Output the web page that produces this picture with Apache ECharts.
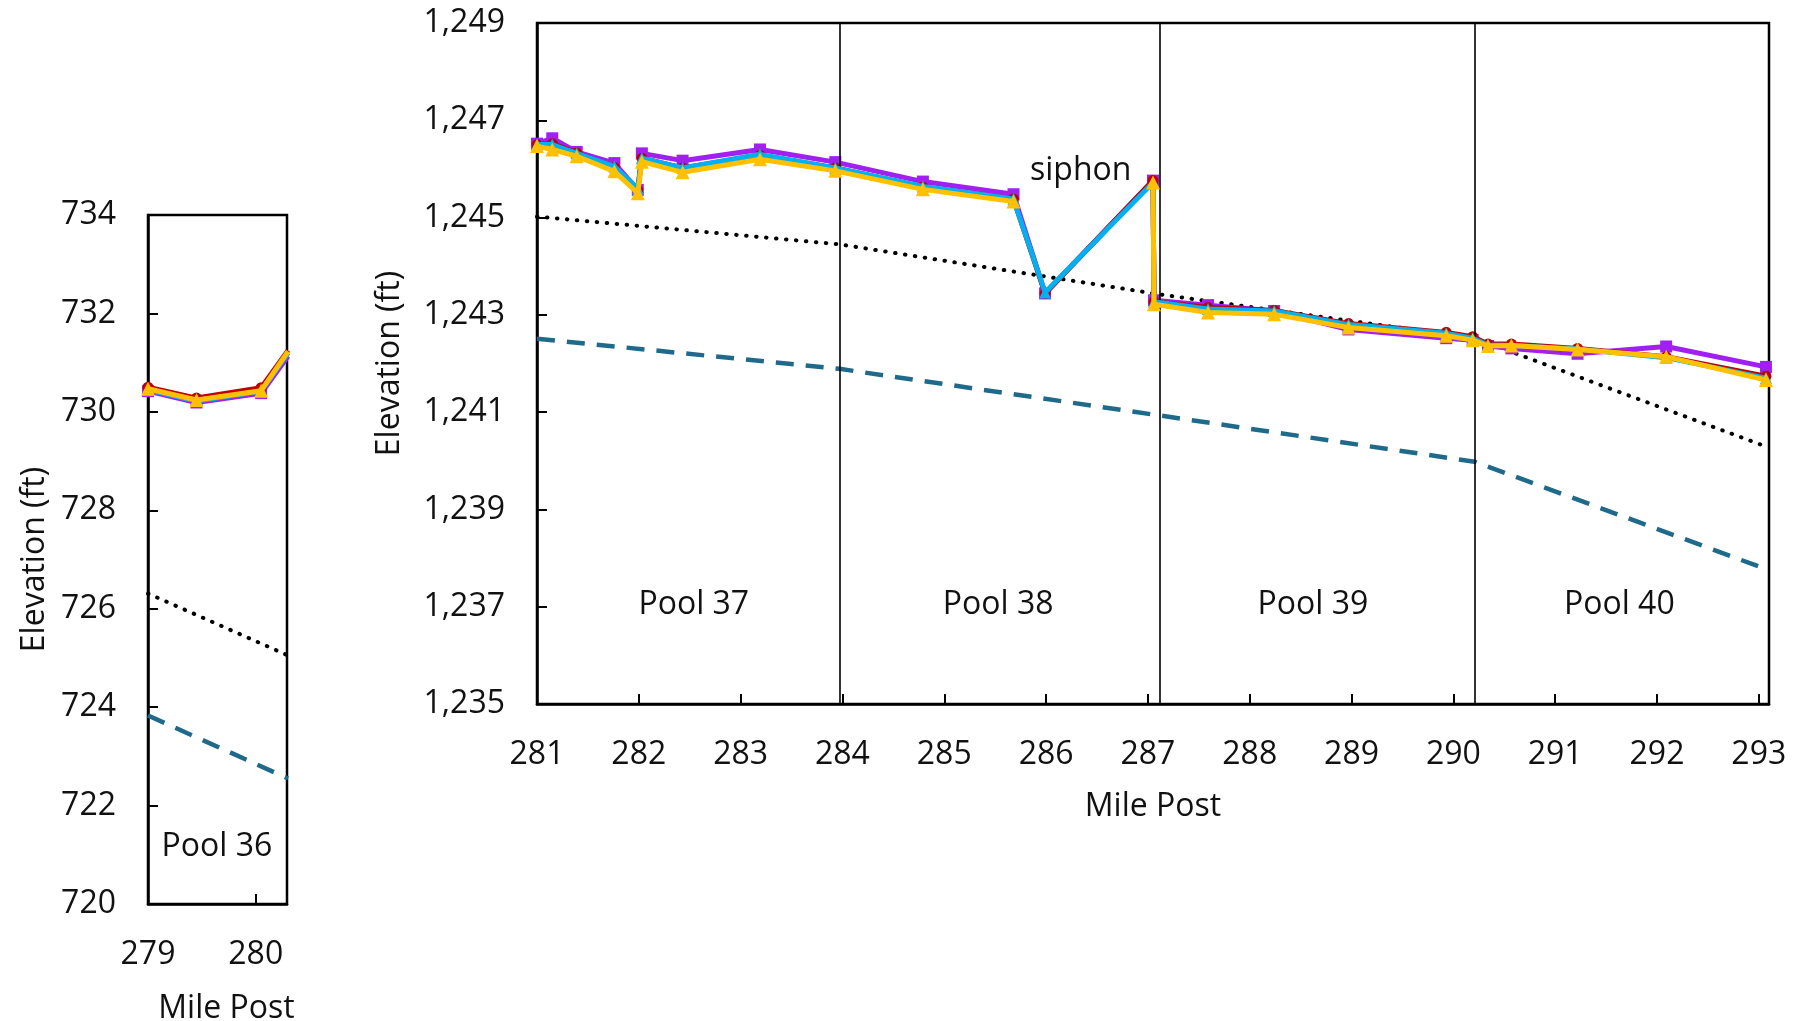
<!DOCTYPE html>
<html>
<head>
<meta charset="utf-8">
<title>Canal water surface elevation, Pools 36–40</title>
<script src="https://cdn.jsdelivr.net/npm/echarts@6/dist/echarts.min.js"></script>
<style>
  html, body { margin: 0; padding: 0; background: #ffffff; }
  #chart { width: 1801px; height: 1021px; }
</style>
</head>
<body>
<div id="chart"></div>
<script>
// ---- Pool 36 (left panel) ----
const p36Mile   = [279.0, 279.45, 280.05, 280.3];
const p36Purple = [730.42, 730.19, 730.38, 731.13];
const p36Red    = [730.50, 730.28, 730.49, 731.25];
const p36Cyan   = [730.45, 730.22, 730.42, 731.20];
const p36Gold   = [730.47, 730.24, 730.43, 731.23];
const p36DotMile = [279.0, 280.3];
const p36Dot     = [726.31, 725.05];
const p36DashMile = [279.0, 280.3];
const p36Dash     = [723.83, 722.55];

// ---- Pools 37–40 (main panel) ----
const mainMile = [281.0, 281.15, 281.39, 281.76, 281.99, 282.03, 282.43, 283.19,
  283.93, 284.79, 285.68, 285.99, 287.05, 287.06, 287.59, 288.24, 288.97, 289.93,
  290.19, 290.34, 290.57, 291.22, 292.09, 293.07];
const mainPurple = [1246.52, 1246.63, 1246.35, 1246.12, 1245.57, 1246.32, 1246.17, 1246.40,
  1246.14, 1245.74, 1245.48, 1243.44, 1245.76, 1243.30, 1243.20, 1243.08, 1242.70, 1242.52,
  1242.48, 1242.36, 1242.31, 1242.20, 1242.35, 1241.93];
const mainRed = [1246.50, 1246.52, 1246.33, 1246.03, 1245.57, 1246.22, 1246.02, 1246.28,
  1246.02, 1245.63, 1245.38, 1243.44, 1245.76, 1243.27, 1243.15, 1243.09, 1242.82, 1242.64,
  1242.55, 1242.40, 1242.40, 1242.31, 1242.14, 1241.74];
const mainCyan = [1246.50, 1246.50, 1246.32, 1246.05, 1245.60, 1246.22, 1246.02, 1246.30,
  1246.02, 1245.64, 1245.38, 1243.46, 1245.72, 1243.27, 1243.12, 1243.08, 1242.80, 1242.62,
  1242.52, 1242.38, 1242.37, 1242.30, 1242.12, 1241.70];
const mainGold = [1246.47, 1246.40, 1246.26, 1245.95, 1245.50, 1246.15, 1245.93, 1246.20,
  1245.96, 1245.58, 1245.33, null, 1245.72, 1243.22, 1243.05, 1243.01, 1242.74, 1242.57,
  1242.48, 1242.36, 1242.37, 1242.29, 1242.14, 1241.66];
const mainDotMile = [281.0, 283.97, 287.12, 290.21, 293.1];
const mainDot     = [1245.02, 1244.45, 1243.42, 1242.52, 1240.27];
const mainDashMile = [281.0, 283.97, 287.12, 290.21, 293.1];
const mainDash     = [1242.51, 1241.89, 1240.93, 1239.98, 1237.75];

// pool boundaries and annotations
const poolBounds = [283.97, 287.12, 290.21];
const poolNames  = ['Pool 37', 'Pool 38', 'Pool 39', 'Pool 40'];
const poolNameMile = [282.54, 285.53, 288.62, 291.63];
const poolNameElev = 1237.03;
const leftPoolName = 'Pool 36';
const leftPoolMile = 279.64;
const leftPoolElev = 721.16;
const siphonText = 'siphon';
const siphonMile = 286.34;
const siphonElev = 1245.96;

// tick labels
const leftYTicks = [720, 722, 724, 726, 728, 730, 732, 734];
const leftXTicks = [279, 280];
const mainYTicks = [1235, 1237, 1239, 1241, 1243, 1245, 1247, 1249];
const mainXTicks = [281, 282, 283, 284, 285, 286, 287, 288, 289, 290, 291, 292, 293];

const FONT = '"Open Sans", "Noto Sans", sans-serif';
const FS = 32;
const TXT = '#111111';
const COLORS = { purple: '#A21FF2', red: '#C00000', cyan: '#00B0F0', gold: '#FFC000', dash: '#1F6A8A' };

const pairs = (xs, ys) => xs.map((x, i) => [x, ys[i] == null ? '-' : ys[i]]);
const textStyle = { fontFamily: FONT, fontSize: FS, color: TXT };

function valueAxis(opts) {
  return Object.assign({
    type: 'value',
    axisLine: { show: true, onZero: false, lineStyle: { color: '#000', width: 2.5 } },
    splitLine: { show: false },
    nameTextStyle: Object.assign({}, textStyle),
  }, opts);
}
function ticks(values) {
  return { show: true, inside: true, length: 10, customValues: values, lineStyle: { color: '#000', width: 2 } };
}

function wsLine(name, xs, ys, color, symbol, size, xi, z) {
  return {
    name, type: 'line', xAxisIndex: xi, yAxisIndex: xi,
    data: pairs(xs, ys), connectNulls: false, clip: true,
    symbol, symbolSize: size, showAllSymbol: true,
    itemStyle: { color, borderWidth: 0 },
    lineStyle: { color, width: 5 },
    z, animation: false,
  };
}

function textSeries(xi, rows) {
  return {
    type: 'scatter', xAxisIndex: xi, yAxisIndex: xi, silent: true, symbolSize: 0, z: 10,
    itemStyle: { color: 'transparent', opacity: 1 },
    data: rows,
    label: Object.assign({
      show: true, position: 'inside', formatter: p => p.value[2],
      textBorderWidth: 0, textBorderColor: 'transparent', opacity: 1,
    }, textStyle),
  };
}

const chart = echarts.init(document.getElementById('chart'), null, { renderer: 'canvas' });

const option = {
  animation: false,
  backgroundColor: '#ffffff',
  grid: [
    { left: 148, top: 215, width: 139, height: 689, show: true, borderColor: '#000', borderWidth: 2.5,
      containLabel: false, outerBoundsMode: 'none' },
    { left: 537, top: 23, right: 32, height: 681, show: true, borderColor: '#000', borderWidth: 2.5,
      containLabel: false, outerBoundsMode: 'none' },
  ],
  xAxis: [
    valueAxis({
      gridIndex: 0, min: 279, max: 280.29,
      name: 'Mile Post', nameLocation: 'middle', nameGap: 89,
      nameTextStyle: Object.assign({ padding: [0, 0, 0, 18] }, textStyle),
      axisTick: ticks(leftXTicks),
      axisLabel: Object.assign({ customValues: leftXTicks, margin: 35 }, textStyle),
    }),
    valueAxis({
      gridIndex: 1, min: 281, max: 293.1,
      name: 'Mile Post', nameLocation: 'middle', nameGap: 87,
      axisTick: ticks(mainXTicks),
      axisLabel: Object.assign({ customValues: mainXTicks, margin: 35 }, textStyle),
    }),
  ],
  yAxis: [
    valueAxis({
      gridIndex: 0, min: 720, max: 734,
      name: 'Elevation (ft)', nameLocation: 'middle', nameGap: 97, nameRotate: 90,
      axisTick: ticks(leftYTicks),
      axisLabel: Object.assign({ customValues: leftYTicks, margin: 32 }, textStyle),
    }),
    valueAxis({
      gridIndex: 1, min: 1235, max: 1249,
      name: 'Elevation (ft)', nameLocation: 'middle', nameGap: 131, nameRotate: 90,
      axisTick: ticks(mainYTicks),
      axisLabel: Object.assign({
        customValues: mainYTicks, margin: 32,
        formatter: v => Number(v).toLocaleString('en-US'),
      }, textStyle),
    }),
  ],
  series: [
    // reference grade lines, left panel
    {
      type: 'line', xAxisIndex: 0, yAxisIndex: 0, data: pairs(p36DotMile, p36Dot),
      symbol: 'none', lineStyle: { color: '#000', width: 4, type: [0.5, 9.5], cap: 'round' }, z: 2,
    },
    {
      type: 'line', xAxisIndex: 0, yAxisIndex: 0, data: pairs(p36DashMile, p36Dash),
      symbol: 'none', lineStyle: { color: COLORS.dash, width: 4.5, type: [18, 12] }, z: 2,
    },
    wsLine('purple36', p36Mile, p36Purple, COLORS.purple, 'rect', 12, 0, 3),
    wsLine('red36', p36Mile, p36Red, COLORS.red, 'circle', 11, 0, 4),
    wsLine('cyan36', p36Mile, p36Cyan, COLORS.cyan, 'triangle', 12, 0, 5),
    wsLine('gold36', p36Mile, p36Gold, COLORS.gold, 'triangle', 14, 0, 6),

    // reference grade lines + pool boundaries, main panel
    {
      type: 'line', xAxisIndex: 1, yAxisIndex: 1, data: pairs(mainDotMile, mainDot),
      symbol: 'none', lineStyle: { color: '#000', width: 4, type: [0.5, 9.5], cap: 'round' }, z: 2,
      markLine: {
        silent: true, symbol: 'none', animation: false,
        label: { show: false },
        lineStyle: { color: '#000', width: 1.6, type: 'solid' },
        data: poolBounds.map(x => ({ xAxis: x })),
      },
    },
    {
      type: 'line', xAxisIndex: 1, yAxisIndex: 1, data: pairs(mainDashMile, mainDash),
      symbol: 'none', lineStyle: { color: COLORS.dash, width: 4.5, type: [18, 12] }, z: 2,
    },
    wsLine('purple', mainMile, mainPurple, COLORS.purple, 'rect', 12, 1, 3),
    wsLine('red', mainMile, mainRed, COLORS.red, 'circle', 11, 1, 4),
    wsLine('cyan', mainMile, mainCyan, COLORS.cyan, 'triangle', 12, 1, 5),
    wsLine('gold', mainMile, mainGold, COLORS.gold, 'triangle', 14, 1, 6),

    // text annotations placed in data coordinates
    textSeries(1, poolNames.map((n, i) => [poolNameMile[i], poolNameElev, n])
      .concat([[siphonMile, siphonElev, siphonText]])),
    textSeries(0, [[leftPoolMile, leftPoolElev, leftPoolName]]),
  ],
};

chart.setOption(option);
</script>
</body>
</html>
